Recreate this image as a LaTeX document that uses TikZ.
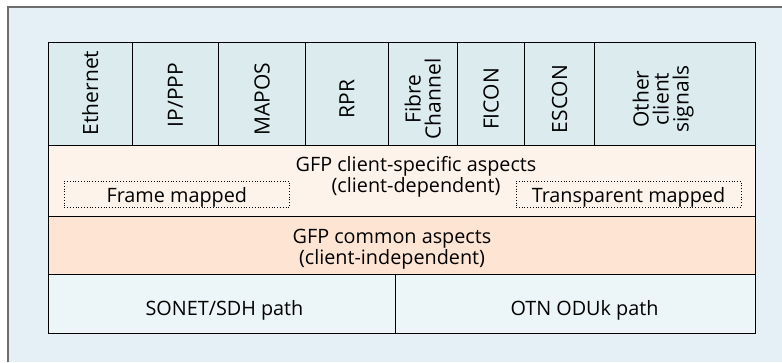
\documentclass[tikz,border=0pt]{standalone}
\usepackage{fontspec}
\setmainfont{Open Sans}
\definecolor{bgblue}{HTML}{E5F0F6}
\definecolor{framegray}{HTML}{6E6E6E}
\definecolor{headfill}{HTML}{DCECEE}
\definecolor{specfill}{HTML}{FEF3EA}
\definecolor{commfill}{HTML}{FEE4D3}
\definecolor{pathfill}{HTML}{ECF5F8}
\tikzset{
  cell/.style={draw=black, line width=0.9pt},
  vlabel/.style={rotate=90, align=center, font=\fontsize{21}{20}\selectfont, inner sep=0pt},
  hlabel/.style={anchor=base, font=\fontsize{19.8}{19}\selectfont, inner sep=0pt},
  dbox/.style={draw=black, dotted, line width=0.8pt, inner sep=0pt}
}
\begin{document}
\begin{tikzpicture}[x=1pt,y=-1pt]
\useasboundingbox (0,0) rectangle (782,362);
% outer background
\fill[bgblue] (8,7) rectangle (782,362);
\draw[framegray, line width=1.6pt] (8,362) -- (8,7) -- (782,7);
% header cells
\foreach \xa/\xb/\nm in {48/132.3/c1,132.3/218.7/c2,218.7/305.3/c3,305.3/388.3/c4,388.3/457.3/c5,457.3/524.7/c6,524.7/594.7/c7,594.7/755.7/c8}{
  \draw[cell, fill=headfill] (\xa,42) rectangle (\xb,145.7);
  \coordinate (\nm) at ({(\xa+\xb)/2},99);
}
\node[vlabel] (eth) at ([yshift=6pt]c1) {Ethernet};
\node[vlabel] (ip) at ([yshift=4pt]c2) {IP/PPP};
\node[vlabel] (mapos) at (c3) {MAPOS};
\node[vlabel] (rpr) at (c4) {RPR};
\node[vlabel] (fc) at (c5) {Fibre\\Channel};
\node[vlabel] (ficon) at (c6) {FICON};
\node[vlabel] (escon) at (c7) {ESCON};
\node[vlabel] (other) at ([xshift=-12pt]c8) {Other\\client\\signals};
% client specific row
\draw[cell, fill=specfill] (48,145.7) rectangle (755.7,216.7);
\node[hlabel] (spec1) at (416,171) {GFP client-specific aspects};
\node[hlabel] (spec2) at (416,192) {(client-dependent)};
\node[dbox, minimum width=225pt, minimum height=26.7pt] (fm) at (176.8,194.3) {};
\node[hlabel] (fmt) at (176.8,202) {Frame mapped};
\node[dbox, minimum width=225pt, minimum height=26.7pt] (tm) at (628.5,194.3) {};
\node[hlabel] (tmt) at (628.5,202) {Transparent mapped};
% common row
\draw[cell, fill=commfill] (48,216.7) rectangle (755.7,274.3);
\node[hlabel] (comm1) at (392,243.5) {GFP common aspects};
\node[hlabel] (comm2) at (392,264.5) {(client-independent)};
% path row
\draw[cell, fill=pathfill] (48,274.3) rectangle (395.3,333);
\draw[cell, fill=pathfill] (395.3,274.3) rectangle (755.7,333);
\node[hlabel] (sonet) at (224.5,315) {SONET/SDH path};
\node[hlabel] (otn) at (584.5,315) {OTN ODUk path};
\end{tikzpicture}
\end{document}
